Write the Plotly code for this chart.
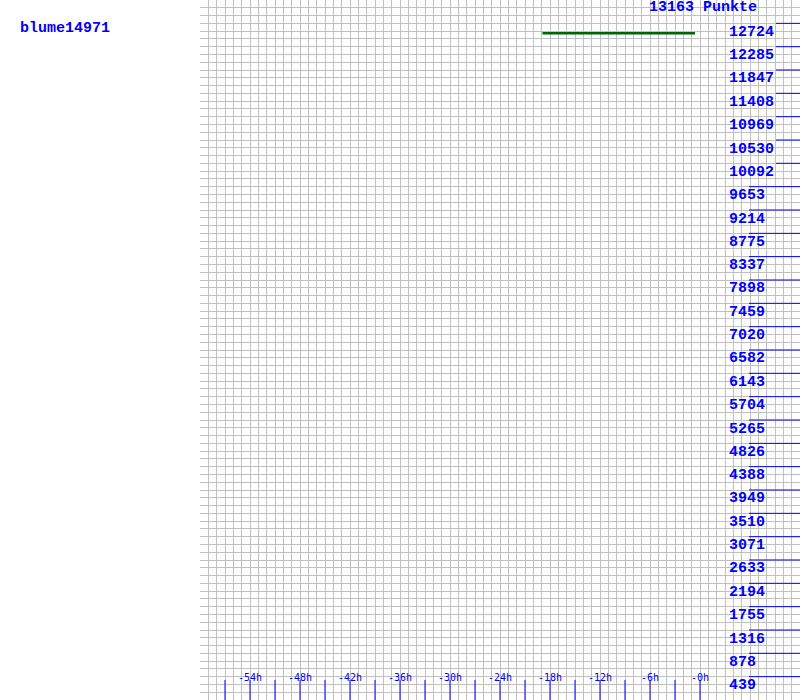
import plotly.graph_objects as go

# ---- data ----
player = "blume14971"
max_points = 13163
hours = [-18.9, -0.6]
points = [12540, 12540]
y_tick_values = [439, 878, 1316, 1755, 2194, 2633, 3071, 3510, 3949, 4388, 4826,
                 5265, 5704, 6143, 6582, 7020, 7459, 7898, 8337, 8775, 9214, 9653,
                 10092, 10530, 10969, 11408, 11847, 12285, 12724]
x_tick_hours = [-54, -48, -42, -36, -30, -24, -18, -12, -6, 0]
x_tick_labels = ["-54h", "-48h", "-42h", "-36h", "-30h", "-24h", "-18h", "-12h", "-6h", "-0h"]
x_minor_ticks = [-57, -54, -51, -48, -45, -42, -39, -36, -33, -30, -27, -24, -21,
                 -18, -15, -12, -9, -6, -3, 0]

W, H = 800, 700
X0_PX = 200
X_RANGE = [-60, 12]
BLUE = "#0000ff"
GRID = "#c0c0c0"
BIG_FONT = dict(family="Liberation Mono", size=15, color=BLUE, weight="bold")


def px_to_hour(px):
    return X_RANGE[0] + (px - X0_PX) / (W - X0_PX) * (X_RANGE[1] - X_RANGE[0])


def px_to_val(py):
    return (H - py) / H * max_points


fig = go.Figure()
fig.add_trace(go.Scatter(x=hours, y=points, mode="lines",
                         line=dict(color="#006600", width=2.5),
                         hoverinfo="skip", showlegend=False))

shapes = []
annotations = []

# right-side value lines and labels
for v in y_tick_values:
    start_px = 776 if v >= 10000 else 749
    shapes.append(dict(type="line", xref="x", yref="y", x0=px_to_hour(start_px), x1=X_RANGE[1],
                       y0=v, y1=v, line=dict(color=BLUE, width=1)))
    annotations.append(dict(text=str(v), xref="paper", yref="y", x=729 / W, y=v,
                            xanchor="left", yanchor="middle", xshift=-2, yshift=-9,
                            showarrow=False, font=BIG_FONT))

annotations.append(dict(text=f"{max_points} Punkte", xref="paper", yref="y", x=649 / W, y=max_points,
                        xanchor="left", yanchor="middle", xshift=-2, yshift=-7,
                        showarrow=False, font=BIG_FONT))

annotations.append(dict(text=player, xref="paper", yref="paper", x=20 / W, y=(H - 28) / H,
                        xanchor="left", yanchor="middle", xshift=-2,
                        showarrow=False, font=BIG_FONT))

# bottom tick lines
for hx in x_minor_ticks:
    shapes.append(dict(type="line", xref="x", yref="y", x0=hx, x1=hx,
                       y0=0, y1=px_to_val(680), line=dict(color=BLUE, width=1)))

for hx, lab in zip(x_tick_hours, x_tick_labels):
    annotations.append(dict(text=lab, xref="x", yref="y", x=hx, y=px_to_val(677),
                            xanchor="center", yanchor="middle", showarrow=False,
                            font=dict(family="DejaVu Sans Mono", size=10, color=BLUE)))

fig.update_layout(
    width=W, height=H,
    margin=dict(l=0, r=0, t=0, b=0, pad=0),
    paper_bgcolor="white", plot_bgcolor="white",
    showlegend=False,
    shapes=shapes, annotations=annotations,
    xaxis=dict(domain=[X0_PX / W, 1], range=X_RANGE, tick0=X_RANGE[0], dtick=1,
               showgrid=True, gridcolor=GRID, gridwidth=1, zeroline=False,
               showline=False, showticklabels=False, ticks="", fixedrange=True),
    yaxis=dict(domain=[0, 1], range=[0, max_points], tick0=0, dtick=max_points / 90,
               showgrid=True, gridcolor=GRID, gridwidth=1, zeroline=False,
               showline=False, showticklabels=False, ticks="", fixedrange=True),
)

fig.write_html("out.html")
